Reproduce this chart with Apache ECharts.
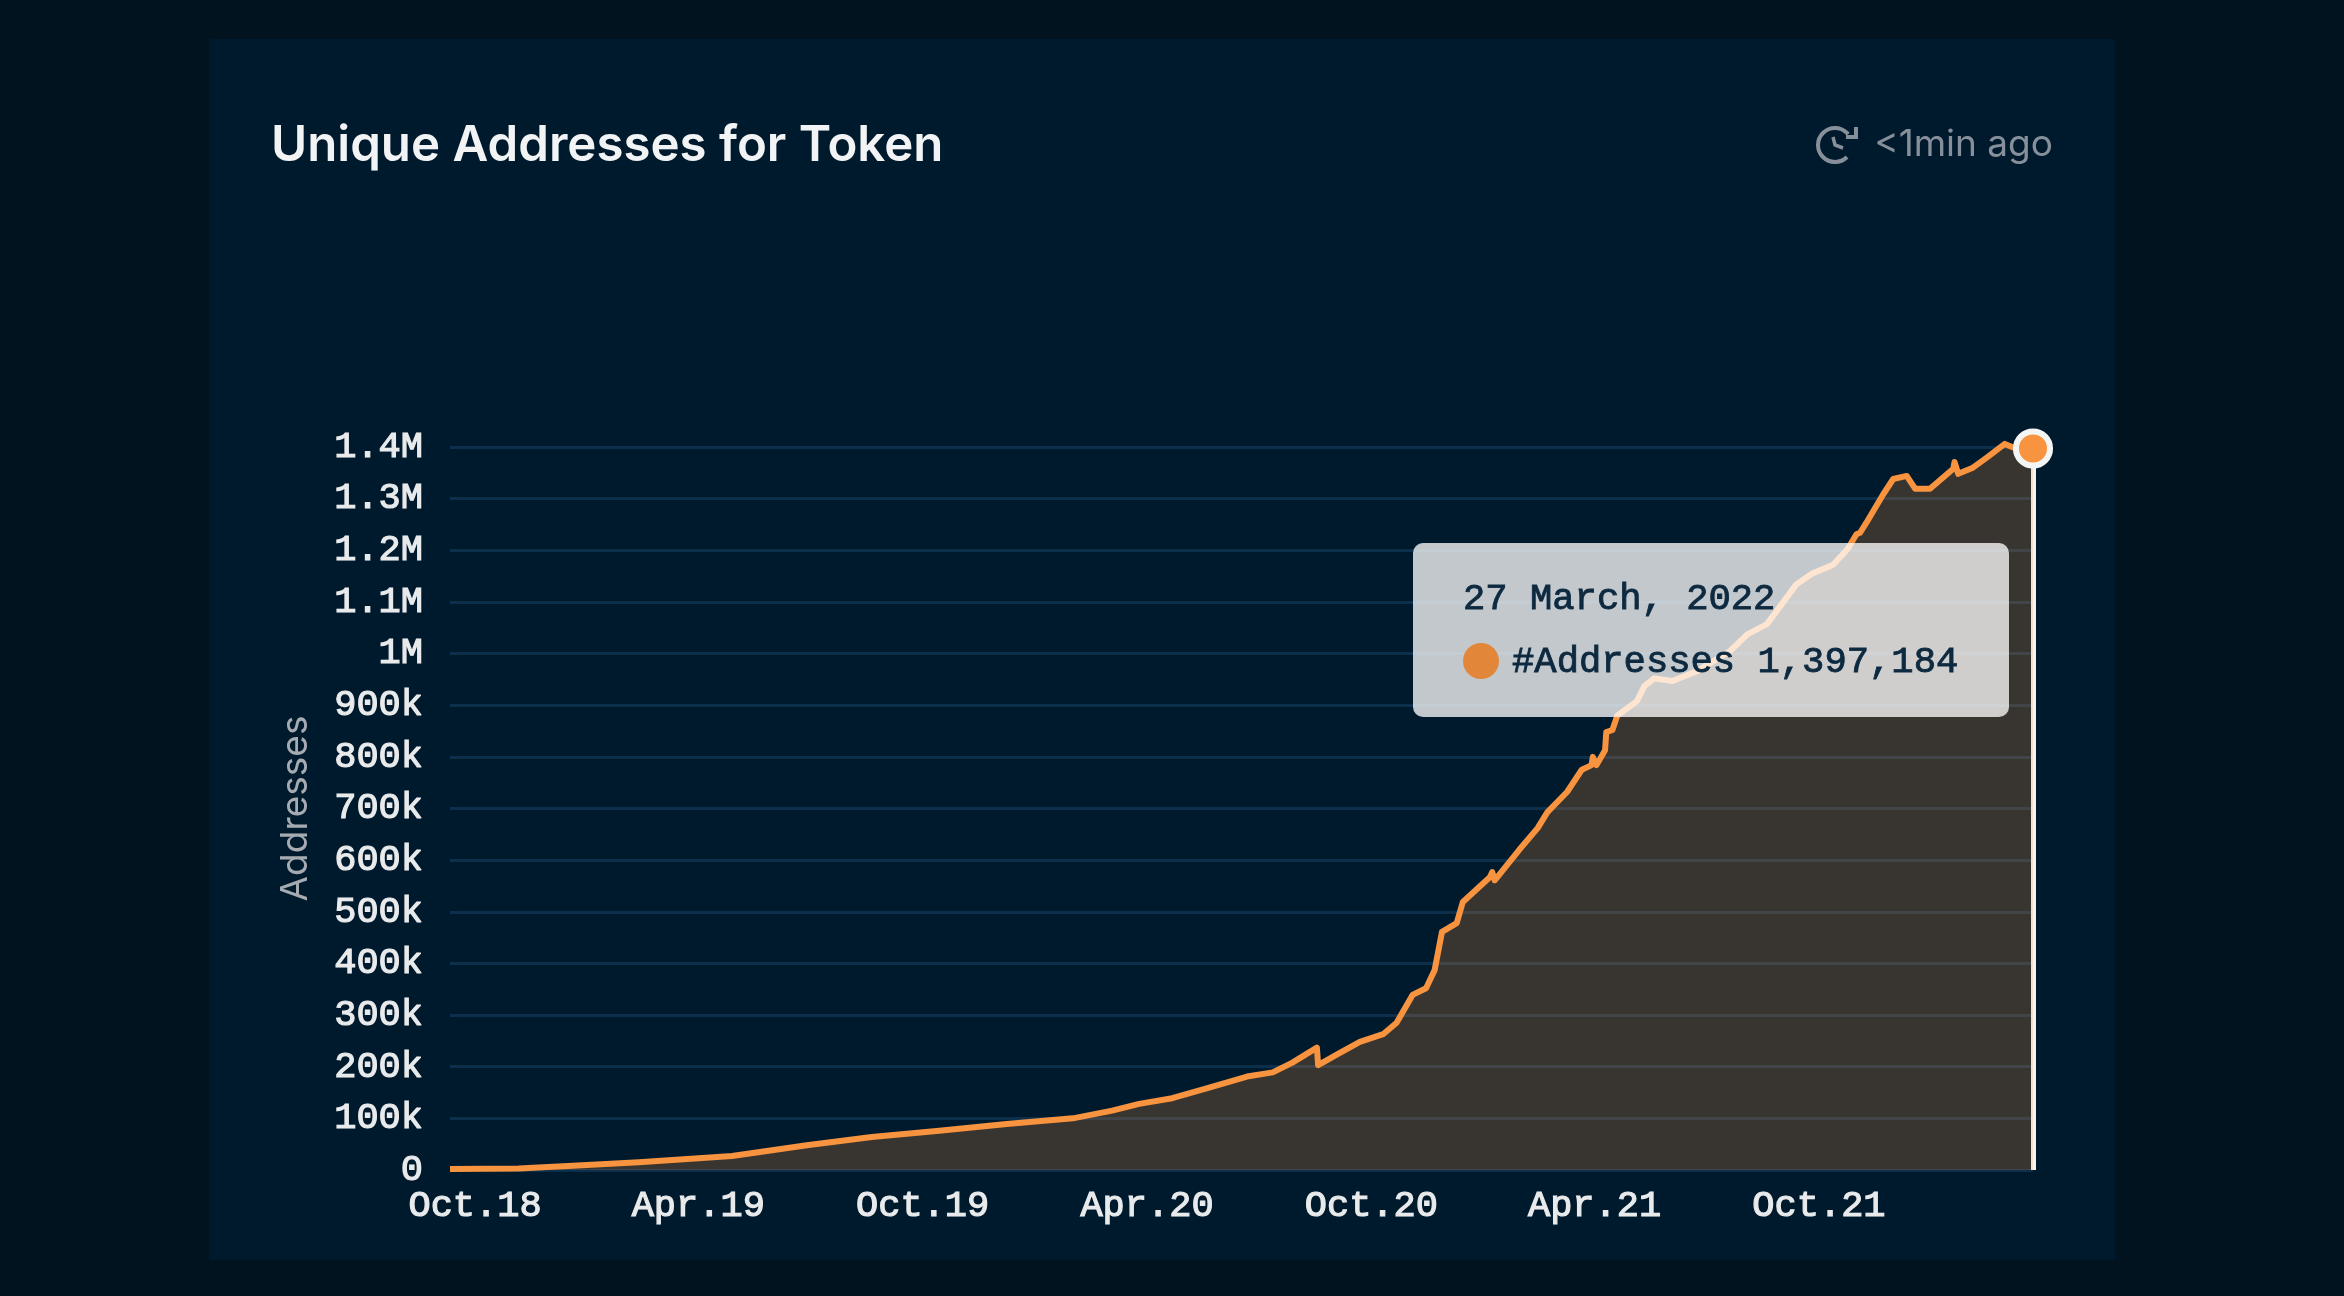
<!DOCTYPE html>
<html>
<head>
<meta charset="utf-8">
<title>Unique Addresses for Token</title>
<style>
  html, body { margin: 0; padding: 0; background: #01131f; }
  #chart_main { width: 2344px; height: 1296px; }
</style>
<script src="https://cdn.jsdelivr.net/npm/echarts@6/dist/echarts.min.js"></script>
</head>
<body>
<div id="chart_main"></div>
<script>
var titleText = 'Unique Addresses for Token';
var updatedText = '<1min ago';
var yAxisName = 'Addresses';
var seriesName = '#Addresses';
var tooltipDate = '27 March, 2022';
var tooltipValue = 1397184;
var monthLabels = { 3: 'Apr', 9: 'Oct' };

var dates = [
    '2018-09-13', '2018-11-08', '2018-12-22', '2019-02-14', '2019-05-01', '2019-07-01',
    '2019-08-23', '2019-10-17', '2019-12-11', '2020-02-03', '2020-03-06', '2020-03-28',
    '2020-04-24', '2020-05-22', '2020-06-24', '2020-07-15', '2020-07-31', '2020-08-20',
    '2020-08-21', '2020-09-07', '2020-09-24', '2020-10-13', '2020-10-24', '2020-11-06',
    '2020-11-17', '2020-11-24', '2020-11-30', '2020-12-12', '2020-12-17', '2021-01-08',
    '2021-01-10', '2021-01-12', '2021-02-01', '2021-02-16', '2021-02-24', '2021-03-12',
    '2021-03-24', '2021-04-01', '2021-04-02', '2021-04-05', '2021-04-12', '2021-04-13',
    '2021-04-18', '2021-04-22', '2021-05-08', '2021-05-14', '2021-05-22', '2021-06-06',
    '2021-06-26', '2021-07-23', '2021-08-06', '2021-08-22', '2021-09-15', '2021-09-28',
    '2021-10-15', '2021-10-27', '2021-11-03', '2021-11-06', '2021-11-11', '2021-11-25',
    '2021-12-03', '2021-12-14', '2021-12-21', '2022-01-02', '2022-01-21', '2022-01-22',
    '2022-01-25', '2022-02-06', '2022-02-17', '2022-03-04', '2022-03-11', '2022-03-27'
];
var addresses = [
    2000, 3000, 8000, 15000, 27000, 48000,
    64000, 76000, 89000, 100000, 115000, 128000,
    139000, 158000, 181000, 189000, 208000, 237000,
    203000, 226000, 248000, 263000, 285000, 339000,
    352000, 387000, 461000, 478000, 519000, 567000,
    577000, 561000, 620000, 662000, 693000, 732000,
    775000, 784000, 800000, 784000, 813000, 848000,
    852000, 880000, 908000, 937000, 952000, 947000,
    966000, 1005000, 1037000, 1057000, 1134000, 1155000,
    1172000, 1203000, 1231000, 1234000, 1253000, 1309000,
    1338000, 1344000, 1319000, 1319000, 1358000, 1371000,
    1348000, 1360000, 1379000, 1406000, 1399000, 1397184
];

var lineData = dates.map(function (d, i) {
    return [d, addresses[i]];
});
var lastIndex = dates.length - 1;

var monoFont = '"Liberation Mono", monospace';
var orange = '#e2863a';
var iconGrey = '#87909a';

function formatY(v) {
    if (v === 0) return '0';
    if (v >= 1000000) return (v / 1000000) + 'M';
    return (v / 1000) + 'k';
}

var myChart = echarts.init(document.getElementById('chart_main'));

var option = {
    animation: false,
    backgroundColor: '#01131f',
    title: [{
        text: titleText,
        left: 266,
        top: 117,
        textStyle: { color: '#f1f3f4', fontFamily: 'Inter', fontWeight: 600, fontSize: 49.2 }
    }, {
        text: updatedText,
        right: 286,
        top: 121,
        textStyle: { color: iconGrey, fontFamily: 'Inter', fontWeight: 400, fontSize: 37 }
    }],
    graphic: [{
        // panel behind the chart
        type: 'rect',
        z: -10,
        silent: true,
        shape: { x: 209, y: 39, width: 1906, height: 1221 },
        style: { fill: '#001a2d' }
    }, {
        // clock icon
        type: 'group',
        silent: true,
        x: 1835,
        y: 145,
        children: [{
            type: 'arc',
            shape: { cx: 0, cy: 0, r: 17, startAngle: Math.PI * 0.25, endAngle: Math.PI * 1.78 },
            style: { stroke: iconGrey, lineWidth: 4, fill: 'none' }
        }, {
            type: 'polyline',
            shape: { points: [[-2, -8], [0, 0], [8, 3]] },
            style: { stroke: iconGrey, lineWidth: 3.5, fill: 'none' }
        }, {
            type: 'polyline',
            shape: { points: [[21, -18], [21, -8], [11, -8]] },
            style: { stroke: iconGrey, lineWidth: 4, fill: 'none' }
        }]
    }],
    grid: { left: 450, right: 311, top: 447, bottom: 126, containLabel: false },
    tooltip: {
        trigger: 'axis',
        triggerOn: 'none',
        alwaysShowContent: true,
        transitionDuration: 0,
        position: [1413, 543],
        padding: 0,
        borderWidth: 0,
        backgroundColor: 'rgba(255,255,255,0.76)',
        extraCssText: 'width:596px;height:174px;border-radius:10px;box-shadow:none;box-sizing:border-box;',
        axisPointer: {
            type: 'line',
            z: 3,
            lineStyle: { color: '#f4f5f5', width: 5, type: 'solid' }
        },
        formatter: function () {
            return '<div style="font-family:' + "'Liberation Mono',monospace" + ';font-size:37.2px;color:#0d2a40;-webkit-text-stroke:0.9px #0d2a40;line-height:63px;padding:25px 0 0 50px;white-space:nowrap;">' +
                '<div>' + tooltipDate + '</div>' +
                '<div><span style="display:inline-block;width:36px;height:36px;border-radius:18px;background:' + orange + ';vertical-align:-7px;margin-right:13px;-webkit-text-stroke:0;"></span>' +
                seriesName + ' ' + tooltipValue.toLocaleString('en-US') + '</div></div>';
        }
    },
    xAxis: {
        type: 'time',
        min: '2018-09-13',
        max: '2022-03-27',
        splitNumber: 14,
        axisLine: { show: false },
        axisTick: { show: false },
        splitLine: { show: false },
        axisLabel: {
            color: '#e8eaeb',
            fontFamily: monoFont,
            fontSize: 37,
            textBorderColor: '#e8eaeb',
            textBorderWidth: 1.2,
            margin: 18,
            padding: [0, 0, 0, 6],
            hideOverlap: false,
            showMinLabel: true,
            showMaxLabel: true,
            formatter: function (val) {
                var d = new Date(val);
                var name = monthLabels[d.getMonth()];
                if (!name || d.getDate() !== 1) return '';
                return name + '.' + String(d.getFullYear()).slice(2);
            }
        }
    },
    yAxis: {
        type: 'value',
        min: 0,
        max: 1400000,
        interval: 100000,
        name: yAxisName,
        nameLocation: 'middle',
        nameGap: 136,
        nameTextStyle: { color: '#a5abb0', fontFamily: 'Inter', fontSize: 37 },
        axisLine: { show: false },
        axisTick: { show: false },
        splitLine: { lineStyle: { color: '#0c2f4c', width: 3 } },
        axisLabel: {
            color: '#e8eaeb',
            fontFamily: monoFont,
            fontSize: 37,
            textBorderColor: '#e8eaeb',
            textBorderWidth: 1.2,
            margin: 27,
            padding: [3, 0, 0, 0],
            formatter: formatY
        }
    },
    series: [{
        name: seriesName,
        type: 'line',
        data: lineData,
        symbol: 'none',
        clip: false,
        lineStyle: { color: orange, width: 6, join: 'round' },
        areaStyle: { color: '#e68a36', opacity: 0.22 }
    }, {
        // end point marker
        name: 'latest',
        type: 'line',
        data: [lineData[lastIndex]],
        symbol: 'circle',
        symbolSize: 31,
        clip: false,
        z: 5,
        itemStyle: { color: orange, borderColor: '#f4f5f5', borderWidth: 6, opacity: 1 },
        lineStyle: { width: 0 }
    }]
};

myChart.setOption(option);
myChart.dispatchAction({ type: 'showTip', seriesIndex: 0, dataIndex: lastIndex });
window.addEventListener('resize', function () {
    myChart.resize();
});
</script>
</body>
</html>
